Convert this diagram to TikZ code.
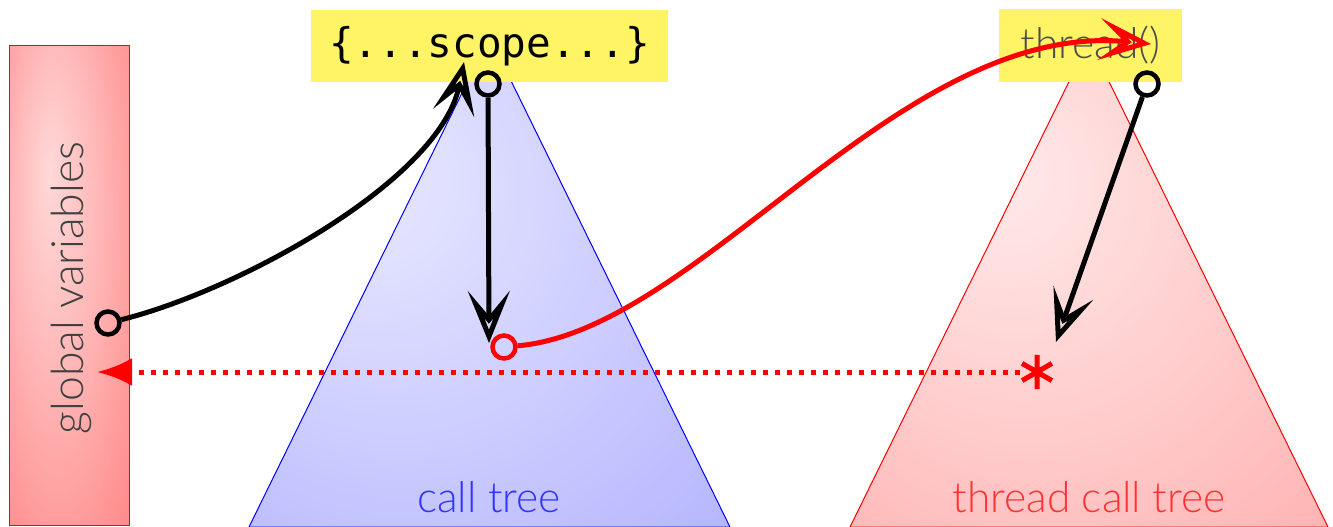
\documentclass[tikz,border=0pt]{standalone}
\usepackage{fontspec}
\setmainfont{Lato Light}
\newfontfamily\monofont{DejaVu Sans Mono}
\usetikzlibrary{arrows.meta}
\definecolor{ylw}{RGB}{255,244,102}
\pgfdeclareradialshading{gvsh}{\pgfpoint{-8bp}{12bp}}{color(0bp)=(red!15);color(20bp)=(red!30);color(60bp)=(red!62)}
\pgfdeclareradialshading{trsh}{\pgfpoint{-15bp}{12bp}}{color(0bp)=(blue!8);color(65bp)=(blue!40)}
\pgfdeclareradialshading{rtsh}{\pgfpoint{-10bp}{12bp}}{color(0bp)=(red!8);color(65bp)=(red!42)}
\begin{document}
\begin{tikzpicture}[x=1pt,y=-1pt,
  circ/.style={circle,draw,line width=4.5pt,minimum size=23pt,inner sep=0pt},
  conn/.style={line width=5pt},
  openhead/.style={-{Stealth[open,length=52pt,width=42pt,inset=25pt]}},
  ybox/.style={fill=ylw,inner sep=0pt,minimum height=72pt},
  thintext/.style={font=\fontsize{42.5}{48}\selectfont}]
\useasboundingbox (0,0) rectangle (1333,527);
% global variables
\node[draw=red, line width=1pt, shading=gvsh, minimum width=120pt, minimum height=479pt, inner sep=0pt] (gv) at (69,285.5) {};
\node[thintext, font=\fontsize{44.5}{50}\selectfont, rotate=90, text=black!75] (gvl) at (71,288) {global variables};
% triangles
\shade[shading=trsh, draw=blue, line width=1pt] (249,527) -- (489.5,37) -- (730,527) -- cycle;
\shade[shading=rtsh, draw=red, line width=1pt] (850,527) -- (1089,41) -- (1328,527) -- cycle;
\node[thintext, text=blue!80] (ct) at (489,497) {call tree};
\node[thintext, text=red!80] (tct) at (1089,497) {thread call tree};
% boxes
\node[ybox, minimum width=357pt] (scope) at (489.5,46) {\monofont\fontsize{41}{41}\selectfont\{...scope...\}};
\node[ybox, minimum width=183pt, thintext, text=black!70] (thr) at (1090.5,45.5) {thread()};
% circles
\node[circ] (c1) at (488,84) {};
\node[circ] (c2) at (1147,84) {};
\node[circ] (c3) at (108,323) {};
\node[circ, draw=red] (c4) at (504,347) {};
\node[circle, minimum size=34pt, inner sep=0pt] (ast) at (1037,372) {};
\coordinate (t1) at (489,343);
\coordinate (t2) at (1056,342);
\coordinate (t3) at (464,62);
\coordinate (t4) at (1151,44);
\coordinate (t5) at (97,372);
% connectors
\draw[conn, openhead] (c1) -- (t1);
\draw[conn, openhead] (c2) -- (t2);
\draw[conn, openhead] (c3) .. controls (240,290) and (440,180) .. (t3);
\draw[conn, red, openhead] (c4) .. controls (700,330) and (900,20) .. (t4);
\draw[red, line width=5pt, dash pattern=on 5pt off 7pt, -{Latex[length=35pt,width=28pt]}] (ast) -- (t5);
\draw[red, line width=5pt] (ast.90) -- (ast.270) (ast.30) -- (ast.210) (ast.150) -- (ast.330);
\end{tikzpicture}
\end{document}
